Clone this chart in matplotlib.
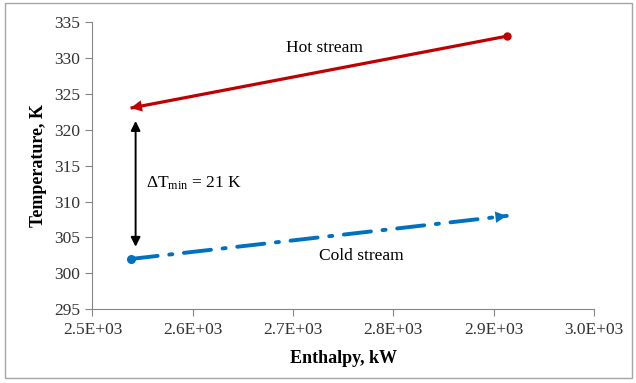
import matplotlib.pyplot as plt
from matplotlib.patches import Rectangle

plt.rcParams['font.family'] = ['Liberation Serif', 'DejaVu Serif']
plt.rcParams['mathtext.fontset'] = 'custom'
plt.rcParams['mathtext.rm'] = 'Liberation Serif'
plt.rcParams['mathtext.it'] = 'Liberation Serif:italic'

# data
hot_h = [2913, 2538]
hot_t = [333, 323]
cold_h = [2538, 2913]
cold_t = [302, 308]
dt_h = 2543
dt_top, dt_bottom = 321.2, 303.7
xticks = [2500, 2600, 2700, 2800, 2900, 3000]
xticklabels = ['2.5E+03', '2.6E+03', '2.7E+03', '2.8E+03', '2.9E+03', '3.0E+03']
yticks = [295, 300, 305, 310, 315, 320, 325, 330, 335]

red = '#c00000'
blue = '#0070c0'
gray = '#868686'

fig = plt.figure(figsize=(6.36, 3.83), dpi=100)
ax = fig.add_axes([0.1454, 0.1924, 0.7886, 0.7506])

fig.patches.append(Rectangle((0.008, 0.012), 0.985, 0.98, transform=fig.transFigure,
                             fill=False, edgecolor='#a6a6a6', lw=1))


def head(ax, xs, ys, color, size=20):
    # arrow head at the last point, pointing along the line
    fx = xs[1] - 0.03 * (xs[1] - xs[0])
    fy = ys[1] - 0.03 * (ys[1] - ys[0])
    ax.annotate('', xy=(xs[1], ys[1]), xytext=(fx, fy),
                arrowprops=dict(arrowstyle='-|>', color=color, lw=0.1,
                                mutation_scale=size, shrinkA=0, shrinkB=0))


ax.plot(hot_h, hot_t, color=red, lw=2.3, solid_capstyle='butt')
ax.plot(hot_h[0], hot_t[0], 'o', color=red, ms=5)
head(ax, hot_h, hot_t, red)

ax.plot(cold_h, cold_t, color=blue, lw=2.8, dashes=(7, 3, 0.8, 3), dash_capstyle='round')
ax.plot(cold_h[0], cold_t[0], 'o', color=blue, ms=5.5)
head(ax, cold_h, cold_t, blue)

ax.annotate('', xy=(dt_h, dt_top), xytext=(dt_h, dt_bottom),
            arrowprops=dict(arrowstyle='<|-|>', color='black', lw=1.4,
                            mutation_scale=14, shrinkA=0, shrinkB=0))

ax.text(2731, 331.3, 'Hot stream', fontsize=12.5, ha='center', va='center')
ax.text(2768, 302.4, 'Cold stream', fontsize=12.5, ha='center', va='center')
ax.text(2553, 312.6, 'ΔT$_{\\mathrm{min}}$ = 21 K', fontsize=12.5, ha='left', va='center')

ax.set_xlim(2500, 3000)
ax.set_ylim(295, 335)
ax.set_xticks(xticks)
ax.set_xticklabels(xticklabels)
ax.set_yticks(yticks)
ax.tick_params(direction='out', length=5, color=gray, labelsize=12.5, pad=4,
               labelcolor='#333333')
for s in ['top', 'right']:
    ax.spines[s].set_visible(False)
for s in ['left', 'bottom']:
    ax.spines[s].set_color(gray)

ax.set_xlabel('Enthalpy, kW', fontsize=13, fontweight='bold', labelpad=9)
ax.set_ylabel('Temperature, K', fontsize=13, fontweight='bold', labelpad=5)

fig.savefig('out.png', dpi=100)
